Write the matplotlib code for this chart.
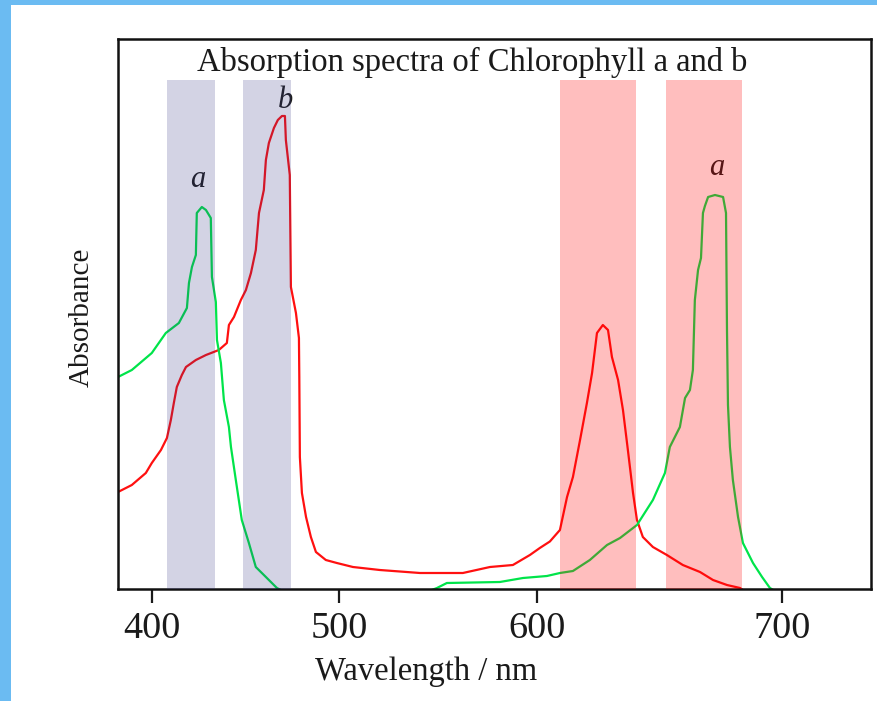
import numpy as np
import matplotlib
matplotlib.use("Agg")
import matplotlib.pyplot as plt
from matplotlib.patches import Rectangle

# ---------------- data (wavelength nm, absorbance a.u.) ----------------
chl_a_nm = [381.7, 389.1, 399.8, 407.3, 414.3, 418.6, 419.7, 421.3, 423.4, 423.9,
            426.6, 428.8, 431.4, 432.0, 434.1, 434.7, 436.8, 438.4, 441.1, 442.2,
            444.8, 448.0, 451.8, 455.5, 460.9, 466.8, 479.1, 510.0, 545.0, 549.6,
            554.6, 581.4, 593.1, 604.2, 609.5, 614.8, 621.7, 628.7, 634.0, 640.9,
            647.4, 652.3, 654.3, 658.4, 660.5, 662.5, 663.7, 664.5, 665.8, 667.0,
            667.8, 668.6, 669.9, 672.7, 676.0, 677.2, 677.6, 678.0, 678.8, 680.0,
            682.1, 684.1, 688.2, 691.9, 695.1, 703.3, 736.3]
chl_a_abs = [0.424, 0.438, 0.472, 0.512, 0.532, 0.562, 0.612, 0.644, 0.668, 0.752,
             0.764, 0.758, 0.742, 0.624, 0.574, 0.498, 0.452, 0.378, 0.324, 0.284,
             0.218, 0.138, 0.092, 0.044, 0.024, 0.002, -0.022, -0.030, -0.005, 0.002,
             0.012, 0.014, 0.022, 0.026, 0.032, 0.036, 0.058, 0.088, 0.102, 0.128,
             0.178, 0.232, 0.284, 0.324, 0.382, 0.398, 0.438, 0.578, 0.638, 0.662,
             0.752, 0.766, 0.784, 0.788, 0.784, 0.752, 0.518, 0.368, 0.284, 0.218,
             0.144, 0.092, 0.052, 0.024, 0.002, -0.022, -0.050]

chl_b_nm = [381.7, 389.1, 396.6, 399.8, 404.7, 407.9, 410.0, 411.6, 413.2, 415.9,
            418.1, 423.4, 428.8, 435.7, 440.0, 441.1, 443.8, 447.5, 450.2, 452.9,
            455.5, 457.2, 459.8, 460.9, 462.5, 465.2, 467.3, 469.5, 471.1, 471.6,
            473.7, 474.3, 477.0, 478.6, 478.8, 479.1, 480.2, 482.4, 485.0, 487.7,
            493.0, 498.9, 507.1, 520.7, 541.0, 562.7, 576.4, 588.0, 596.6, 601.3,
            605.4, 609.5, 612.4, 614.8, 617.7, 620.5, 622.6, 624.6, 627.0, 629.1,
            630.7, 633.2, 635.2, 637.2, 639.3, 640.9, 643.3, 647.4, 653.1, 659.6,
            666.6, 671.9, 677.6, 682.9, 687.0, 736.3]
chl_b_abs = [0.194, 0.208, 0.232, 0.252, 0.278, 0.302, 0.338, 0.372, 0.404, 0.428,
             0.444, 0.458, 0.468, 0.478, 0.492, 0.528, 0.544, 0.578, 0.598, 0.632,
             0.678, 0.752, 0.798, 0.858, 0.892, 0.922, 0.938, 0.946, 0.946, 0.898,
             0.828, 0.604, 0.552, 0.502, 0.424, 0.264, 0.192, 0.144, 0.104, 0.074,
             0.058, 0.052, 0.044, 0.038, 0.032, 0.032, 0.044, 0.048, 0.068, 0.082,
             0.095, 0.118, 0.184, 0.224, 0.298, 0.372, 0.432, 0.512, 0.528, 0.518,
             0.464, 0.418, 0.358, 0.278, 0.192, 0.138, 0.104, 0.084, 0.068, 0.048,
             0.034, 0.018, 0.008, 0.002, -0.012, -0.050]

blue_bands = [(407.9, 433.6), (448.6, 474.3)]
red_bands = [(609.5, 640.5), (652.8, 683.7)]
band_top = 1.018

tick_nm = [400, 500, 600, 700]
tick_labels = ["400", "500", "600", "700"]
# the printed axis is not evenly spaced: display position of each tick
tick_pos = [152.3, 339.0, 536.7, 782.0]

peak_labels = [("a", 424.5, 0.804), ("b", 471.6, 0.962), ("a", 673.4, 0.828)]

# ---------------- scale (piecewise linear, as on the original) ----------------
tn = np.array(tick_nm, float)
tp = np.array(tick_pos, float)
s_lo = (tp[1] - tp[0]) / (tn[1] - tn[0])
s_hi = (tp[-1] - tp[-2]) / (tn[-1] - tn[-2])


def fwd(x):
    x = np.asarray(x, float)
    y = np.interp(x, tn, tp)
    y = np.where(x < tn[0], tp[0] + (x - tn[0]) * s_lo, y)
    y = np.where(x > tn[-1], tp[-1] + (x - tn[-1]) * s_hi, y)
    return y


def inv(u):
    u = np.asarray(u, float)
    x = np.interp(u, tp, tn)
    x = np.where(u < tp[0], tn[0] + (u - tp[0]) / s_lo, x)
    x = np.where(u > tp[-1], tn[-1] + (u - tp[-1]) / s_hi, x)
    return x


# ---------------- figure ----------------
plt.rcParams['font.family'] = ['Liberation Serif', 'DejaVu Serif']
fig = plt.figure(figsize=(8.78, 7.01), dpi=100)
fig.patch.set_facecolor('white')
# light blue page border (left and top)
fig.patches.append(Rectangle((0, 0), 11 / 878, 1, transform=fig.transFigure,
                             facecolor='#6bbbf2', edgecolor='none', zorder=0))
fig.patches.append(Rectangle((0, 1 - 5 / 701), 1, 5 / 701, transform=fig.transFigure,
                             facecolor='#6bbbf2', edgecolor='none', zorder=0))

ax = fig.add_axes([118 / 878, (701 - 589) / 701, 753 / 878, 550 / 701])
ax.set_xscale('function', functions=(fwd, inv))
ax.set_xlim(381.7, 736.3)
ax.set_ylim(0, 1.1)

ax.plot(chl_b_nm, chl_b_abs, color='#ff1010', lw=1.6, zorder=2)
ax.plot(chl_a_nm, chl_a_abs, color='#00e44a', lw=1.6, zorder=2)

for lab, x, y in peak_labels:
    ax.text(x, y, lab, ha='center', va='baseline', fontsize=22,
            style='italic', color='#1e1e1e', zorder=2)

for x0, x1 in blue_bands:
    ax.add_patch(Rectangle((x0, 0), x1 - x0, band_top, facecolor=(0.2, 0.2, 0.51),
                           alpha=0.21, edgecolor='none', zorder=3))
for x0, x1 in red_bands:
    ax.add_patch(Rectangle((x0, 0), x1 - x0, band_top, facecolor=(1.0, 0.0, 0.0),
                           alpha=0.255, edgecolor='none', zorder=3))

ax.text(0.471, 0.942, "Absorption spectra of Chlorophyll a and b",
        transform=ax.transAxes, ha='center', va='baseline', fontsize=23.5,
        color='#1a1a1a')

ax.set_xticks(tick_nm)
ax.set_xticklabels(tick_labels)
ax.minorticks_off()
ax.set_yticks([])
ax.tick_params(axis='x', direction='out', length=10, width=1.6, pad=6,
               labelsize=27.5, colors='#1a1a1a')
for sp in ax.spines.values():
    sp.set_linewidth(1.8)
    sp.set_color('#111111')

ax.set_xlabel("Wavelength / nm", fontsize=23.5, color='#1a1a1a')
ax.xaxis.set_label_coords(0.409, -0.165)
ax.xaxis.label.set_va('baseline')
ax.set_ylabel("Absorbance", fontsize=21, color='#1a1a1a')
ax.yaxis.set_label_coords(-0.031, 0.494)

fig.savefig("out.png", dpi=100, facecolor='white')
